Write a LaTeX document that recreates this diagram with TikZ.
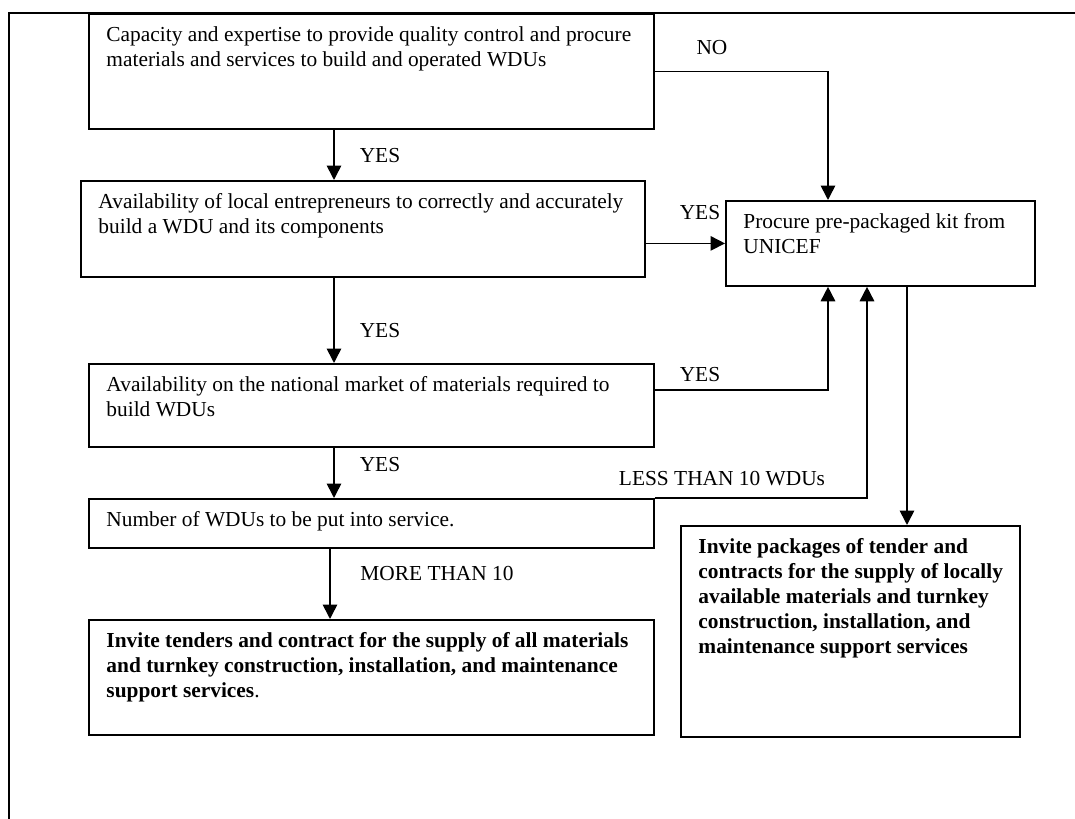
\documentclass[tikz,border=0pt]{standalone}
\usepackage{fontspec}
\setmainfont{Liberation Serif}
\usetikzlibrary{arrows.meta,positioning}

% box text: width and height in px, text hangs from the top
\newcommand{\boxtext}[3]{\parbox[c][\dimexpr 0.552pt*#2-11.6pt\relax][t]{\dimexpr 0.552pt*#1\relax}{\raggedright\leftskip=9.7pt\strut #3}}

\begin{document}
\begin{tikzpicture}[x=0.552pt, y=-0.552pt, font=\fontsize{11.8}{13.8}\selectfont]
			\tikzstyle{Step}	= [draw, line width=1pt, anchor=north west, inner xsep=0pt, inner ysep=5.8pt]
			\tikzstyle{Flow}	= [line width=0.9pt, -{Triangle[length=8pt,width=8pt]}]
			\tikzstyle{Answer}	= [inner sep=0pt]
			\tikzstyle{Frame}	= [line width=1.5pt]
			
			\useasboundingbox (0,0) rectangle (1075,819);
			\draw [Frame] (9,819) -- (9,13) -- (1075,13);
			
			\node (cap) at (88,13) [Step] {\boxtext{565}{115}{Capacity and expertise to provide quality control and procure\\ materials and services to build and operated WDUs}};
			\node (ent) at (80,180) [Step] {\boxtext{564}{96}{Availability of local entrepreneurs to correctly and accurately\\ build a WDU and its components}};
			\node (mkt) at (88,363) [Step] {\boxtext{565}{83}{Availability on the national market of materials required to\\ build WDUs}};
			\node (num) at (88,498) [Step] {\boxtext{565}{49}{Number of WDUs to be put into service.}};
			\node (tend) at (88,619) [Step] {\boxtext{565}{115}{\textbf{Invite tenders and contract for the supply of all materials\\ and turnkey construction, installation, and maintenance\\ support services}.}};
			\node (kit) at (725,200) [Step] {\boxtext{309}{85}{Procure pre-packaged kit from\\ UNICEF}};
			\node (pack) at (680,525) [Step] {\boxtext{339}{211}{\textbf{Invite packages of tender and\\ contracts for the supply of locally\\ available materials and turnkey\\ construction, installation, and\\ maintenance support services}}};
			
			\node (yesA) at (380,156) [Answer] {YES};
			\node (yesB) at (380,331) [Answer] {YES};
			\node (yesC) at (380,465) [Answer] {YES};
			\node (more) at (437,573) [Answer] {MORE THAN 10};
			\node (no) at (712,48) [Answer] {NO};
			\node (yesD) at (700,213) [Answer] {YES};
			\node (yesE) at (700,375) [Answer] {YES};
			\node (less) at (722,479) [Answer] {LESS THAN 10 WDUs};
			
			\draw [Flow] (334,0 |- cap.south) -- (334,0 |- ent.north);
			\draw [Flow] (334,0 |- ent.south) -- (334,0 |- mkt.north);
			\draw [Flow] (334,0 |- mkt.south) -- (334,0 |- num.north);
			\draw [Flow] (330,0 |- num.south) -- (330,0 |- tend.north);
			
			\draw [Flow] (cap.east) -| (kit.north -| 828,0);
			\draw [Flow] (ent.east |- kit.west) -- (kit.west);
			\draw [Flow] (mkt.east |- 0,390) -| (kit.south -| 828,0);
			\draw [Flow] (num.north east) -| (kit.south -| 867,0);
			\draw [Flow] (kit.south -| 907,0) -- (pack.north -| 907,0);
		\end{tikzpicture}
\end{document}
